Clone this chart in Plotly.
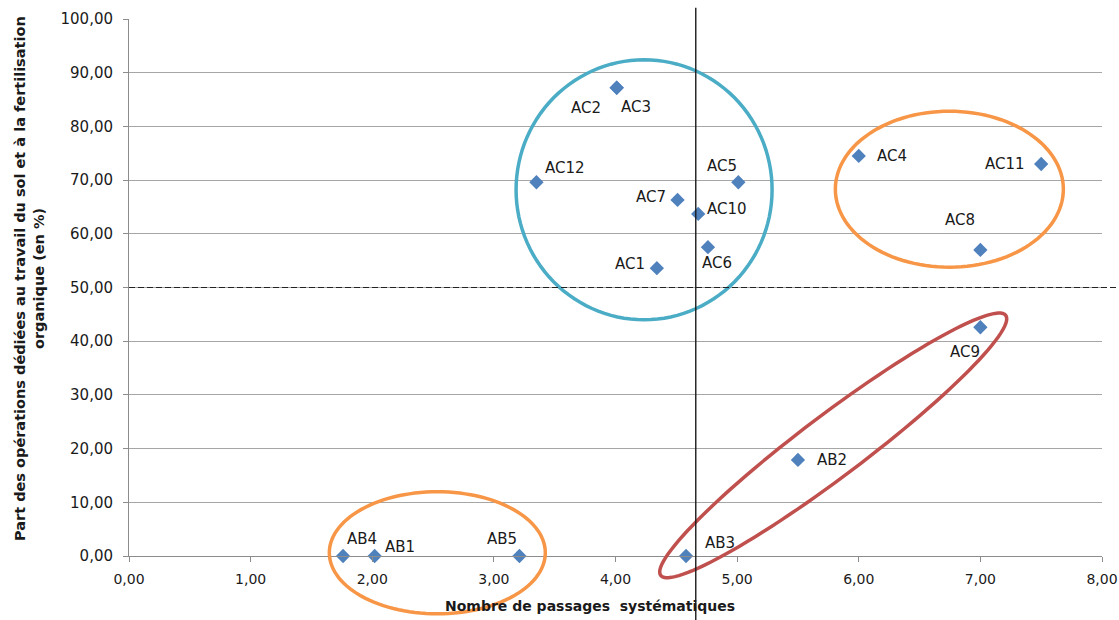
import math
import plotly.graph_objects as go

# ---- data ----
labels = ["AB4", "AB1", "AB5", "AB3", "AB2", "AC9", "AC8", "AC11", "AC4", "AC5",
          "AC10", "AC7", "AC6", "AC1", "AC12", "AC2", "AC3"]
passages = [1.76, 2.02, 3.21, 4.58, 5.50, 7.00, 7.00, 7.50, 6.00, 5.01,
            4.68, 4.51, 4.76, 4.34, 3.35, 4.01, 4.01]
part_pct = [0.0, 0.0, 0.0, 0.0, 17.9, 42.6, 57.0, 73.0, 74.5, 69.6,
            63.7, 66.3, 57.5, 53.6, 69.6, 87.2, 87.2]
# label offsets from the marker, in pixels (style only)
label_dx = [19, 25, -17, 34, 34, -15, -20, -36, 33, -16, 29, -27, 9, -27, 29, -31, 19]
label_dy = [17, 9, 17, 13, 0, -25, 30, 0, 0, 16, 5, 3, -16, 4, 14, -20, -19]

x_ticks = [0, 1, 2, 3, 4, 5, 6, 7, 8]
y_ticks = [0, 10, 20, 30, 40, 50, 60, 70, 80, 90, 100]
x_range = [0, 8]
y_range = [0, 100]
ref_x = 4.66   # vertical reference line
ref_y = 50     # horizontal dashed line

# ---- layout geometry ----
W, H = 1119, 620
ML, MR, MT, MB = 129, 17, 19, 64
PW, PH = W - ML - MR, H - MT - MB


def to_paper(x, y):
    return ((x - x_range[0]) / (x_range[1] - x_range[0]),
            (y - y_range[0]) / (y_range[1] - y_range[0]))


def ellipse_path(cx, cy, a_px, b_px, angle_deg, n=120):
    px, py = to_paper(cx, cy)
    t = math.radians(angle_deg)
    pts = []
    for i in range(n + 1):
        s = 2 * math.pi * i / n
        ex = a_px * math.cos(s)
        ey = b_px * math.sin(s)
        rx = ex * math.cos(t) - ey * math.sin(t)
        ry = ex * math.sin(t) + ey * math.cos(t)
        pts.append((px + rx / PW, py + ry / PH))
    d = "M " + " L ".join(f"{u:.5f},{v:.5f}" for u, v in pts) + " Z"
    return d


# ellipses: (center x, center y in data units, semi axes in px, angle, colour)
groups = [
    (4.235, 68.2, 128, 130, 0, "#4bacc6"),
    (6.745, 68.3, 114, 78, 0, "#f79646"),
    (2.535, 0.6, 108, 61, 0, "#f79646"),
    (5.79, 20.6, 216, 31, 37, "#c0504d"),
]

FONT = "DejaVu Sans, sans-serif"

fig = go.Figure()
fig.add_trace(go.Scatter(
    x=passages, y=part_pct, mode="markers", text=labels,
    marker=dict(symbol="diamond", size=11, color="#4f81bd"),
    cliponaxis=False, showlegend=False, hoverinfo="x+y+text",
))

shapes = []
for cx, cy, a, b, ang, col in groups:
    shapes.append(dict(type="path", xref="paper", yref="paper",
                       path=ellipse_path(cx, cy, a, b, ang),
                       line=dict(color=col, width=3.5), layer="above"))
vx, _ = to_paper(ref_x, 0)
shapes.append(dict(type="line", xref="paper", yref="paper", x0=vx, x1=vx,
                   y0=1.021, y1=-0.12, line=dict(color="#1a1a1a", width=1.4)))
_, hy = to_paper(0, ref_y)
shapes.append(dict(type="line", xref="paper", yref="paper", x0=0, x1=1.018,
                   y0=hy, y1=hy, line=dict(color="#222222", width=1.2, dash="6px,3px")))

annotations = []
for lab, x, y, dx, dy in zip(labels, passages, part_pct, label_dx, label_dy):
    annotations.append(dict(text=lab, x=x, y=y, xref="x", yref="y", showarrow=False,
                            xshift=dx, yshift=dy, xanchor="center", yanchor="middle",
                            font=dict(size=15, color="#1a1a1a")))

annotations += [
    dict(text="<b>Nombre de passages  systématiques</b>", xref="paper", yref="paper",
         x=(590 - ML) / PW, y=(H - MB - 606) / PH, showarrow=False,
         font=dict(size=14), xanchor="center", yanchor="middle"),
    dict(text="<b>Part des opérations dédiées au travail du sol et à la fertilisation</b>",
         xref="paper", yref="paper", x=(20 - ML) / PW, y=(H - MB - 279) / PH,
         showarrow=False, textangle=-90, font=dict(size=14.5),
         xanchor="center", yanchor="middle"),
    dict(text="<b>organique (en %)</b>",
         xref="paper", yref="paper", x=(39 - ML) / PW, y=(H - MB - 279) / PH,
         showarrow=False, textangle=-90, font=dict(size=14.5),
         xanchor="center", yanchor="middle"),
]

fig.update_layout(
    width=W, height=H, margin=dict(l=ML, r=MR, t=MT, b=MB),
    paper_bgcolor="white", plot_bgcolor="white",
    separators=", ",
    font=dict(family=FONT, size=15, color="#1a1a1a"),
    shapes=shapes,
    annotations=annotations,
    xaxis=dict(range=x_range, tickvals=x_ticks, tickformat=".2f",
               showgrid=False, zeroline=False, showline=True, linecolor="#8c8c8c",
               linewidth=1, ticks="outside", ticklen=5, tickcolor="#8c8c8c",
               ticklabelstandoff=5, automargin=False,
               tickfont=dict(size=14)),
    yaxis=dict(range=y_range, tickvals=y_ticks, tickformat=".2f",
               showgrid=True, gridcolor="#a6a6a6", gridwidth=1, zeroline=False,
               showline=True, linecolor="#8c8c8c", linewidth=1,
               ticks="outside", ticklen=5, tickcolor="#8c8c8c", automargin=False,
               ticklabelstandoff=7, tickfont=dict(size=15)),
)

fig.write_html("out.html", config={"displayModeBar": False})

# remove the default body margin so the figure sits at the window's top-left corner
with open("out.html", encoding="utf-8") as f:
    html = f.read()
html = html.replace("<head>", "<head><style>body{margin:0;padding:0;}</style>", 1)
with open("out.html", "w", encoding="utf-8") as f:
    f.write(html)
